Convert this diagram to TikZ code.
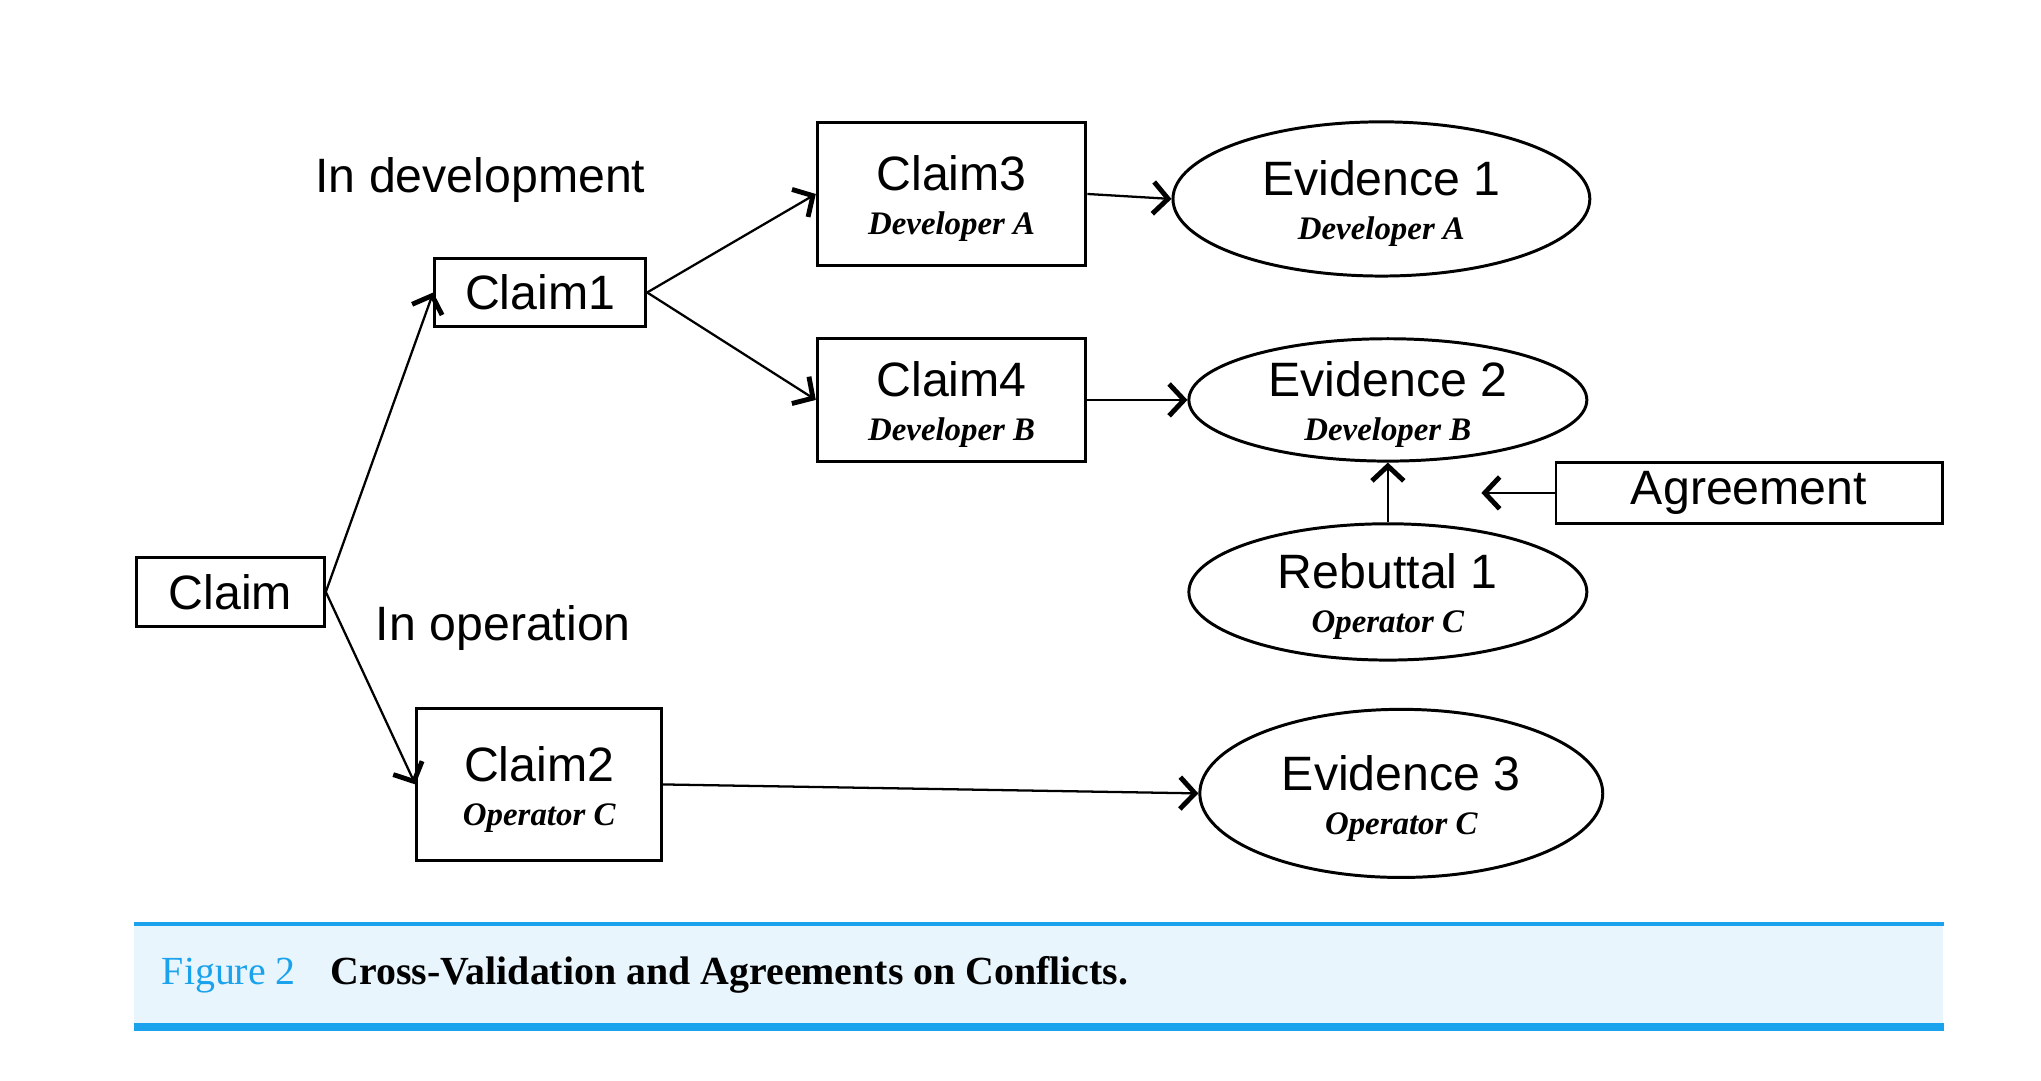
\documentclass[tikz,border=0pt]{standalone}
\usepackage{fontspec}
\setmainfont{Liberation Serif}
\setsansfont{Liberation Sans}
\usetikzlibrary{shapes.geometric,arrows.meta}
\definecolor{capblue}{HTML}{1AA3EC}
\definecolor{capfill}{HTML}{E9F5FC}
\newcommand{\who}[1]{{\rmfamily\bfseries\itshape\fontsize{9.4}{12.6}\selectfont #1}}
\newcommand{\pair}[2]{\rule{0pt}{12.8pt}#1\\\who{#2}}
\tikzset{
  lbl/.style={font=\sffamily\fontsize{13.8}{12.6}\selectfont, align=center, inner sep=0pt},
  box/.style={lbl, draw, line width=0.85pt, rectangle},
  oval/.style={lbl, draw, line width=0.85pt, ellipse},
  link/.style={-{Straight Barb[length=1.5mm,width=3.2mm,line width=1.4pt]}, line width=0.65pt},
}
\begin{document}
\begin{tikzpicture}
            \useasboundingbox (0,-0.05) rectangle (20.515,10.815);
            % claims
            \node[box, minimum width=1.89cm, minimum height=0.69cm] (claim) at (2.315, 4.865) {Claim};
            \node[box, minimum width=2.12cm, minimum height=0.69cm] (claim1) at (5.43, 7.875) {Claim1};
            \node[box, minimum width=2.70cm, minimum height=1.43cm] (claim3) at (9.565, 8.865) {\pair{Claim3}{Developer A}};
            \node[box, minimum width=2.70cm, minimum height=1.23cm] (claim4) at (9.565, 6.795) {\pair{Claim4}{Developer B}};
            \node[box, minimum width=2.46cm, minimum height=1.53cm] (claim2) at (5.42, 2.93) {\pair{Claim2}{Operator C}};
            % evidence and rebuttal
            \node[oval, minimum width=4.19cm, minimum height=1.55cm] (ev1) at (13.885, 8.815) {\pair{Evidence 1}{Developer A}};
            \node[oval, minimum width=4.00cm, minimum height=1.23cm, inner ysep=-1.6pt] (ev2) at (13.95, 6.795) {\pair{Evidence 2}{Developer B}};
            \node[oval, minimum width=4.00cm, minimum height=1.37cm] (reb1) at (13.95, 4.865) {\pair{Rebuttal 1}{Operator C}};
            \node[oval, minimum width=4.05cm, minimum height=1.69cm] (ev3) at (14.085, 2.84) {\pair{Evidence 3}{Operator C}};
            \node[box, minimum width=3.88cm, minimum height=0.62cm] (agree) at (17.58, 5.86) {Agreement};
            \coordinate (agreeend) at (14.89, 5.86);
            \node[lbl] (indev) at (4.83, 9.005) {In development};
            \node[lbl] (inop) at (5.06, 4.504) {In operation};
            \draw[link] (claim.east) to (claim1.west);
            \draw[link] (claim.east) to (claim2.west);
            \draw[link] (claim1.east) to (claim3.west);
            \draw[link] (claim1.east) to (claim4.west);
            \draw[link] (claim3.east) to (ev1.west);
            \draw[link] (claim4.east) to (ev2.west);
            \draw[link] (claim2.east) to (ev3.west);
            \draw[link] (reb1.north) to (ev2.south);
            \draw[link] (agree.west) to (agreeend);
            % caption
            \node[fill=capfill, minimum width=18.18cm, minimum height=1.02cm, inner sep=0pt] (band) at (10.44, 1.01) {};
            \draw[capblue, line width=1.2pt] (band.north west) -- (band.north east);
            \draw[capblue, line width=2.2pt] (band.south west) -- (band.south east);
            \node[anchor=west, inner sep=0pt, font=\fontsize{11.4}{13}\selectfont] (caption) at (1.62, 1.02) {{\color{capblue}Figure 2}\hspace*{0.35cm}\textbf{Cross-Validation and Agreements on Conflicts.}};
        \end{tikzpicture}
\end{document}
